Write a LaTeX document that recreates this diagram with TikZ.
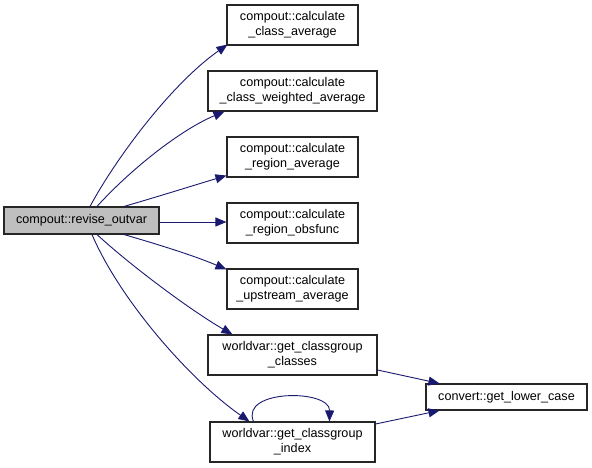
\documentclass[tikz,border=0pt]{standalone}
\usepackage{fontspec}
\setmainfont{Liberation Sans}
\usetikzlibrary{arrows.meta}
\definecolor{edgeblue}{HTML}{191970}
\definecolor{rootgray}{HTML}{BFBFBF}
\tikzset{
  fn/.style={draw=black!85, line width=1.1pt, fill=white, inner sep=0pt, align=center,
    font=\fontsize{12.6}{15}\selectfont, anchor=center},
  edge/.style={draw=edgeblue, line width=0.9pt, -{Triangle[length=11pt,width=9pt]}},
}
\begin{document}
\begin{tikzpicture}[x=1pt,y=-1pt]
\useasboundingbox (0,0) rectangle (592,468);
\node[fn, fill=rootgray, minimum width=155pt, minimum height=27pt] (root) at (81.5,220.5) {compout::revise\_outvar};
\node[fn, minimum width=131pt, minimum height=40pt] (cavg) at (292.5,25) {compout::calculate\\\_class\_average};
\node[fn, minimum width=169pt, minimum height=40pt] (cwavg) at (292.5,91) {compout::calculate\\\_class\_weighted\_average};
\node[fn, minimum width=131pt, minimum height=40pt] (ravg) at (292.5,157) {compout::calculate\\\_region\_average};
\node[fn, minimum width=131pt, minimum height=40pt] (robs) at (292.5,223) {compout::calculate\\\_region\_obsfunc};
\node[fn, minimum width=131pt, minimum height=40pt] (upavg) at (292.5,289) {compout::calculate\\\_upstream\_average};
\node[fn, minimum width=169pt, minimum height=40pt] (classes) at (292.5,355) {worldvar::get\_classgroup\\\_classes};
\node[fn, minimum width=165pt, minimum height=40pt] (index) at (292.5,442) {worldvar::get\_classgroup\\\_index};
\node[fn, minimum width=161pt, minimum height=26pt] (lower) at (506.5,397) {convert::get\_lower\_case};

\draw[edge] ([xshift=8.5pt]root.north) .. controls (115,160) and (170,85) .. ([xshift=1pt,yshift=1pt]cavg.south west);
\draw[edge] ([xshift=15.5pt]root.north) .. controls (130,170) and (180,130) .. ([xshift=17pt]cwavg.south west);
\draw[edge] ([xshift=42.5pt]root.north) .. controls (160,196) and (195,185) .. ([yshift=2pt]ravg.south west);
\draw[edge] (root.east |- 0,222) -- (robs.west |- 0,222);
\draw[edge] ([xshift=42.5pt]root.south) .. controls (160,245) and (195,256) .. ([yshift=-1pt]upavg.north west);
\draw[edge] ([xshift=15.5pt]root.south) .. controls (130,265) and (190,310) .. ([xshift=25pt]classes.north west);
\draw[edge] ([xshift=10.5pt]root.south) .. controls (120,300) and (190,380) .. ([xshift=40pt]index.north west);
\draw[edge] ([xshift=44pt]index.north west) .. controls (240,389) and (330,389) .. ([xshift=120pt]index.north west);
\draw[edge] ([yshift=-15pt]classes.east) -- ([xshift=14pt]lower.north west);
\draw[edge] ([yshift=18pt]index.east) -- ([xshift=14pt]lower.south west);
\end{tikzpicture}
\end{document}
